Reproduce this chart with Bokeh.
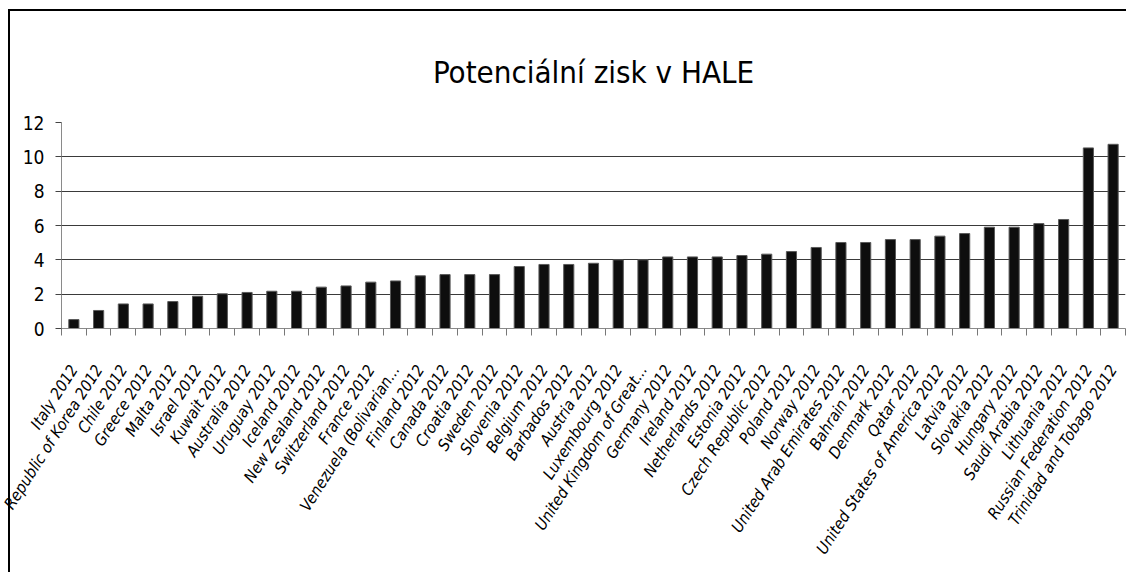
import math
from bokeh.plotting import figure
from bokeh.models import ColumnDataSource, FixedTicker, Range1d
from bokeh.embed import file_html
from bokeh.resources import INLINE

countries = [
    "Italy 2012", "Republic of Korea 2012", "Chile 2012", "Greece 2012", "Malta 2012",
    "Israel 2012", "Kuwait 2012", "Australia 2012", "Uruguay 2012", "Iceland 2012",
    "New Zealand 2012", "Switzerland 2012", "France 2012", "Venezuela (Bolivarian...",
    "Finland 2012", "Canada 2012", "Croatia 2012", "Sweden 2012", "Slovenia 2012",
    "Belgium 2012", "Barbados 2012", "Austria 2012", "Luxembourg 2012",
    "United Kingdom of Great...", "Germany 2012", "Ireland 2012", "Netherlands 2012",
    "Estonia 2012", "Czech Republic 2012", "Poland 2012", "Norway 2012",
    "United Arab Emirates 2012", "Bahrain 2012", "Denmark 2012", "Qatar 2012",
    "United States of America 2012", "Latvia 2012", "Slovakia 2012", "Hungary 2012",
    "Saudi Arabia 2012", "Lithuania 2012", "Russian Federation 2012",
    "Trinidad and Tobago 2012",
]
values = [
    0.52, 1.05, 1.43, 1.43, 1.57, 1.88, 2.02, 2.10, 2.17, 2.17,
    2.41, 2.48, 2.70, 2.77, 3.07, 3.14, 3.14, 3.14, 3.61, 3.73,
    3.73, 3.80, 4.00, 4.00, 4.17, 4.17, 4.17, 4.25, 4.33, 4.48,
    4.72, 5.01, 5.01, 5.18, 5.18, 5.38, 5.53, 5.90, 5.90, 6.11,
    6.35, 10.52, 10.73,
]
y_ticks = [0, 2, 4, 6, 8, 10, 12]
title_text = "Potenciální zisk v HALE"

n = len(countries)
xs = list(range(n))
src = ColumnDataSource(dict(x=xs, top=values, name=countries))

FONT = "DejaVu Sans Condensed, Lato, sans-serif"

bg = ("linear-gradient(#000,#000) 8px 9px / 2px 100% no-repeat, "
      "linear-gradient(#000,#000) 8px 9px / 100% 2px no-repeat, #ffffff")

p = figure(width=1126, height=572, output_backend="svg", toolbar_location=None,
           x_range=Range1d(-0.5, n - 0.5), y_range=Range1d(0, 12),
           title=title_text,
           min_border_left=61, min_border_right=1, min_border_top=122,
           min_border_bottom=244,
           styles={"background": bg})

p.vbar(x="x", top="top", width=0.41, source=src, fill_color="#0e0e0e",
       line_color="#5a5a5a", line_width=1)

p.title.align = "center"
p.title.text_font = FONT
p.title.text_font_size = "31px"
p.title.text_font_style = "normal"
p.title.text_color = "black"
p.title.offset = 0
p.title.standoff = 66
p.title.text_line_height = 0.8

p.outline_line_color = None
p.background_fill_color = "white"
p.border_fill_color = None

# y axis
p.yaxis.ticker = FixedTicker(ticks=y_ticks)
p.yaxis.axis_line_color = "#8a8a8a"
p.yaxis.major_tick_line_color = "#444444"
p.yaxis.major_tick_out = 6
p.yaxis.major_tick_in = 0
p.yaxis.minor_tick_line_color = None
p.yaxis.major_label_standoff = 11
p.yaxis.major_label_text_font = FONT
p.yaxis.major_label_text_font_size = "19px"
p.yaxis.major_label_text_color = "black"

p.ygrid.grid_line_color = "#3a3a3a"
p.ygrid.grid_line_width = 1.2
p.xgrid.grid_line_color = None

# x axis: labels at bar centres, tick marks at category boundaries
p.xaxis.ticker = FixedTicker(ticks=xs, minor_ticks=[i - 0.5 for i in range(n + 1)])
p.xaxis.major_label_overrides = {i: c for i, c in enumerate(countries)}
p.xaxis.major_tick_line_color = None
p.xaxis.minor_tick_line_color = "#777777"
p.xaxis.minor_tick_out = 7
p.xaxis.minor_tick_in = 0
p.xaxis.axis_line_color = "#8a8a8a"
p.xaxis.major_label_orientation = 1.0
p.xaxis.major_label_standoff = 31
p.xaxis.major_label_text_font = FONT
p.xaxis.major_label_text_font_size = "16px"
p.xaxis.major_label_text_font_style = "italic"
p.xaxis.major_label_text_color = "black"

open("out.html", "w").write(file_html(p, INLINE))
